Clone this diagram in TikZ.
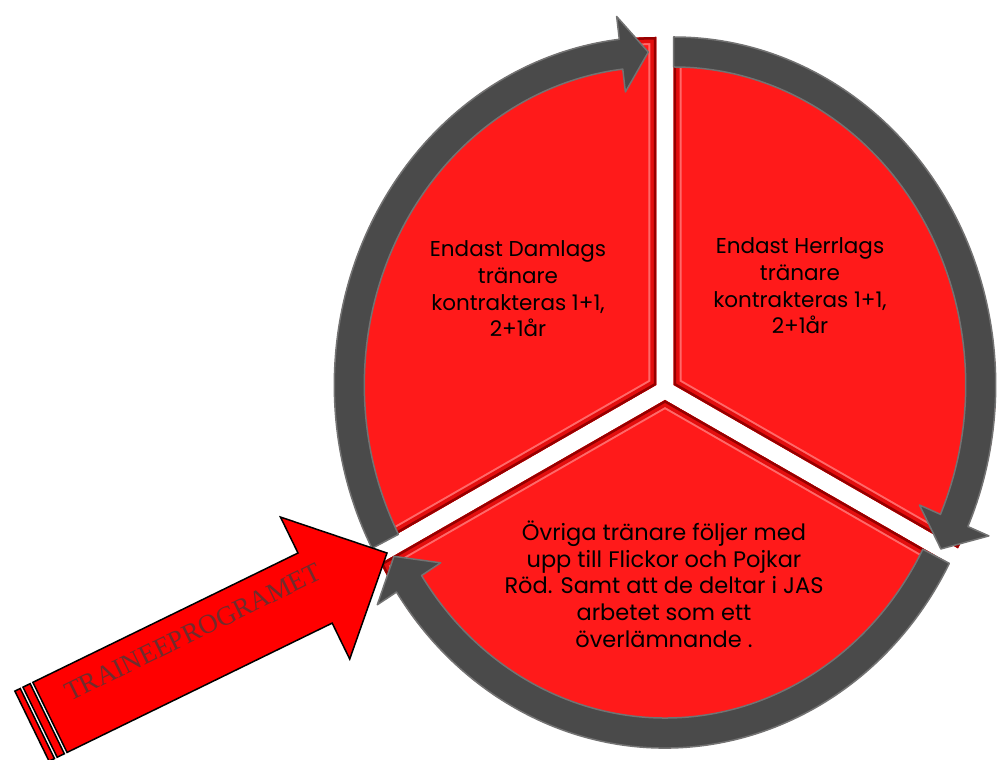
\documentclass[tikz,border=0pt]{standalone}
\usepackage{fontspec}
\setmainfont{Poppins}
\newfontfamily\arrowfont{Liberation Serif}
\usetikzlibrary{calc}
\definecolor{piefill}{RGB}{255,26,26}
\definecolor{pieedge}{RGB}{228,14,14}
\definecolor{piedark}{RGB}{150,0,0}
\definecolor{bandfill}{RGB}{74,74,74}
\definecolor{bandedge}{RGB}{115,115,115}
\definecolor{arrowtext}{RGB}{110,45,45}
\begin{document}
\begin{tikzpicture}[x=1pt,y=1pt,
  pieslice/.style n args={3}{insert path={(#1) -- ($(#1)+(#2:322 and 348)$) arc[start angle=#2,end angle=#3,x radius=322,y radius=348] -- cycle}},
  bandarrow/.style n args={4}{insert path={($(#1)+(#2:322 and 348)$) arc[start angle=#2,end angle=#3,x radius=322,y radius=348] -- ($(#1)+(#3:345 and 371)$) -- ($(#1)+(#4:307 and 333)$) -- ($(#1)+(#3:269 and 295)$) -- ($(#1)+(#3:292 and 318)$) arc[start angle=#3,end angle=#2,x radius=292,y radius=318] -- cycle}},
  ring/.style={fill=bandfill, draw=bandedge, line width=1.5pt, line join=round},
  pietext/.style={align=center, text=black, inner sep=0pt},
  bigarrow/.style={fill=red, draw=black, line width=1.5pt, line join=miter},
  arrowlabel/.style={font=\arrowfont\fontsize{27}{30}\selectfont, text=arrowtext, inner sep=0pt}
]
\useasboundingbox (0,0) rectangle (1001,760);
\coordinate (L) at (656.3,375);
\coordinate (R) at (673.7,375);
\coordinate (B) at (665,360);

% red pie slices with bevel
\foreach \c/\a/\b in {L/90/208, R/-28/90, B/208/332} {
  \begin{scope}
    \clip[pieslice={\c}{\a}{\b}];
    \fill[piefill][pieslice={\c}{\a}{\b}];
    \draw[line width=16pt, white, opacity=.35][pieslice={\c}{\a}{\b}];
    \draw[line width=12pt, pieedge][pieslice={\c}{\a}{\b}];
    \draw[line width=5pt, piedark][pieslice={\c}{\a}{\b}];
  \end{scope}
}

% grey circular arrows
\path[ring][bandarrow={L}{208}{96.6}{91.5}];
\path[ring][bandarrow={R}{90}{-24}{-29.5}];
\path[ring][bandarrow={B}{-28}{-146.5}{-152}];

% texts
\node[pietext, font=\fontsize{21.5}{26.7}\selectfont] (tL) at (518,471) {Endast Damlags\\tränare\\kontrakteras 1+1,\\2+1år};
\node[pietext, font=\fontsize{21.5}{26.7}\selectfont] (tR) at (800,474) {Endast Herrlags\\tränare\\kontrakteras 1+1,\\2+1år};
\node[pietext, font=\fontsize{22.5}{26.7}\selectfont] (tB) at (664,176) {Övriga tränare följer med\\upp till Flickor och Pojkar\\Röd. Samt att de deltar i JAS\\arbetet som ett\\överlämnande .};

% striped block arrow
\begin{scope}[shift={(387,207)}, rotate=26]
  \path[bigarrow] (0,0) -- (-80,79) -- (-80,39) -- (-375,39) -- (-375,-39) -- (-80,-39) -- (-80,-79) -- cycle;
  \path[bigarrow] (-386,39) rectangle (-378,-39);
  \path[bigarrow] (-395,39) rectangle (-389,-39);
  \node[arrowlabel, rotate=26] (tArrow) at (-209,14) {TRAINEEPROGRAMET};
\end{scope}
\end{tikzpicture}
\end{document}
